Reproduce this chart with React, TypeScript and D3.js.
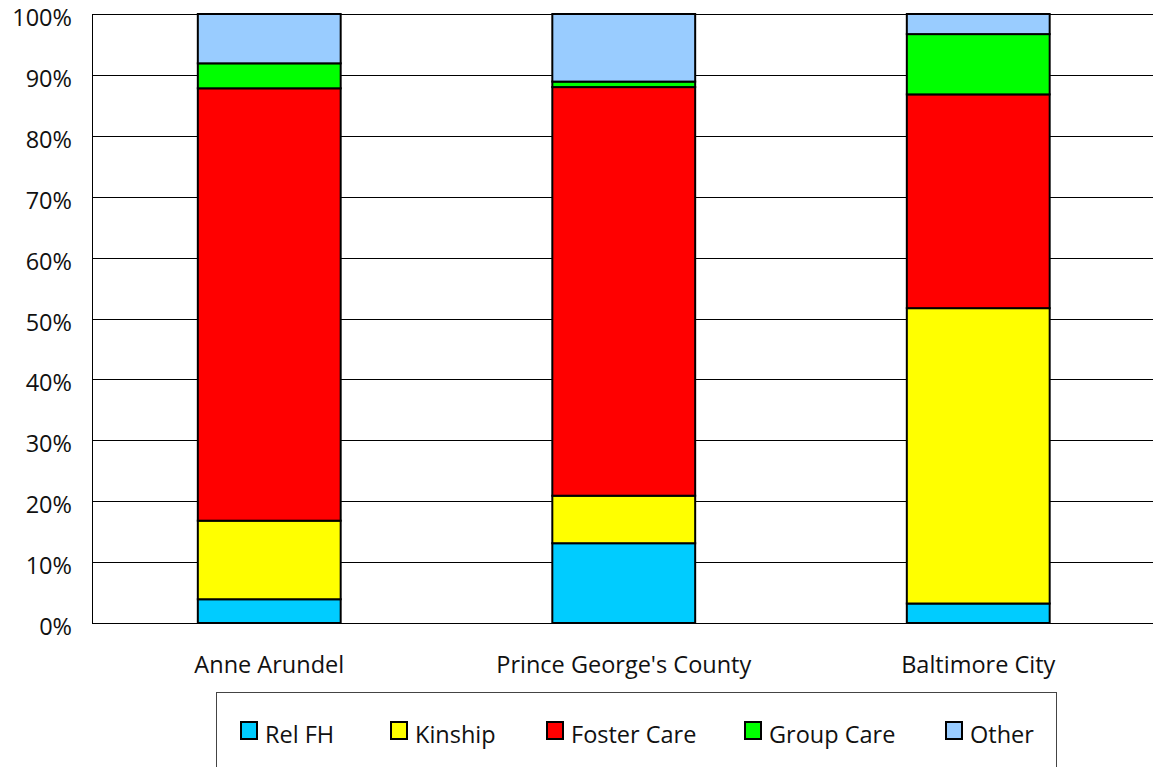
import React from "react";
import * as d3 from "d3";

// Placement shares by jurisdiction (percent of children in care)
const categories = ["Anne Arundel", "Prince George's County", "Baltimore City"];
const seriesNames = ["Rel FH", "Kinship", "Foster Care", "Group Care", "Other"];
const relFH = [3.9, 13.1, 3.2];
const kinship = [12.9, 7.8, 48.5];
const fosterCare = [71.0, 67.1, 35.1];
const groupCare = [4.1, 0.9, 9.9];
const other = [8.1, 11.1, 3.3];
const yTicks = [0, 10, 20, 30, 40, 50, 60, 70, 80, 90, 100];

const seriesValues = [relFH, kinship, fosterCare, groupCare, other];
const colors = ["#00CCFF", "#FFFF00", "#FF0000", "#00FF00", "#99CCFF"];

const W = 1153;
const H = 767;
const plot = { left: 92, right: 1155.5, top: 14, bottom: 623 };
const FONT = "'Open Sans', 'Noto Sans', sans-serif";
const legendBox = { x: 216.5, y: 692.5, w: 840, h: 100 };
const legendItemX = [240, 390, 546, 744, 945];

export default function App() {
  const x = d3
    .scaleBand<string>()
    .domain(categories)
    .range([plot.left, plot.right])
    .paddingInner(0.597)
    .paddingOuter(0.2985);
  const y = d3.scaleLinear().domain([0, 100]).range([plot.bottom, plot.top]);

  const rows = categories.map((c, i) => {
    const r: Record<string, number | string> = { cat: c };
    seriesNames.forEach((s, j) => (r[s] = seriesValues[j][i]));
    return r;
  });
  const stacked = d3.stack<Record<string, number | string>>().keys(seriesNames)(rows as any);

  return (
    <svg
      width={W}
      height={H}
      style={{ position: "absolute", left: 0, top: 0, background: "#fff" }}
      fontFamily={FONT}
    >
      {/* gridlines */}
      {yTicks.slice(1).map((t) => (
        <line
          key={t}
          x1={plot.left}
          x2={W}
          y1={Math.round(y(t)) + 0.5}
          y2={Math.round(y(t)) + 0.5}
          stroke="#000"
          strokeWidth={1}
        />
      ))}
      {/* y tick labels */}
      {yTicks.map((t) => (
        <text
          key={t}
          x={72}
          y={y(t) + 12}
          textAnchor="end"
          fontSize={23.5}
          fill="#111"
        >
          {t}%
        </text>
      ))}
      {/* stacked bars */}
      {stacked.map((layer, j) => (
        <g key={seriesNames[j]}>
          {layer.map((d, i) => (
            <rect
              key={i}
              x={x(categories[i])!}
              width={x.bandwidth()}
              y={y(d[1])}
              height={y(d[0]) - y(d[1])}
              fill={colors[j]}
              stroke="#000"
              strokeWidth={2}
            />
          ))}
        </g>
      ))}
      {/* axes */}
      <line x1={plot.left + 0.5} x2={plot.left + 0.5} y1={plot.top} y2={plot.bottom} stroke="#000" />
      <line x1={plot.left} x2={W} y1={plot.bottom + 0.5} y2={plot.bottom + 0.5} stroke="#000" />
      {/* category labels */}
      {categories.map((c) => (
        <text
          key={c}
          x={x(c)! + x.bandwidth() / 2}
          y={673}
          textAnchor="middle"
          fontSize={23.5}
          fill="#111"
        >
          {c}
        </text>
      ))}
      {/* legend */}
      <rect
        x={legendBox.x}
        y={legendBox.y}
        width={legendBox.w}
        height={legendBox.h}
        fill="#fff"
        stroke="#444"
        strokeWidth={1}
      />
      {seriesNames.map((s, j) => (
        <g key={s} transform={`translate(${legendItemX[j]},0)`}>
          <rect x={1} y={722} width={16} height={17} fill={colors[j]} stroke="#000" strokeWidth={2} />
          <text x={25} y={743} fontSize={23.5} fill="#111">
            {s}
          </text>
        </g>
      ))}
    </svg>
  );
}
